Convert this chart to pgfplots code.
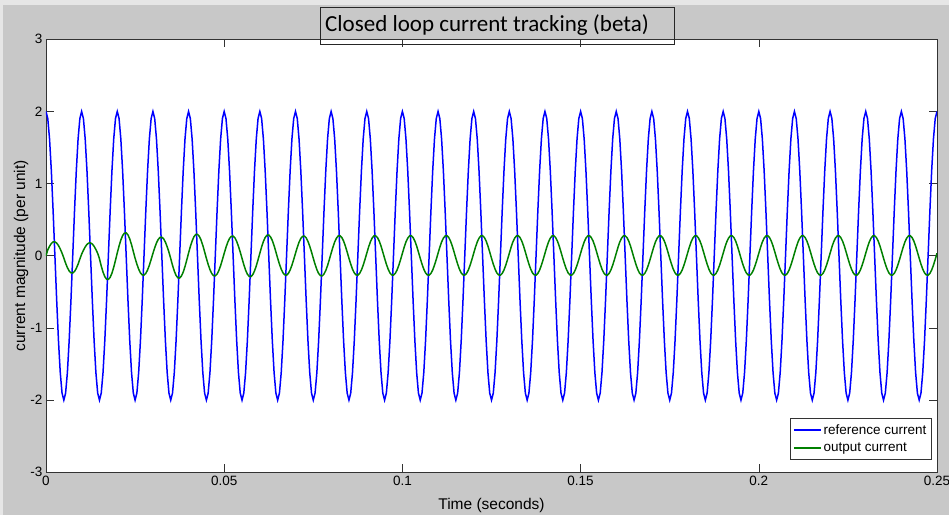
\documentclass[border=0pt]{standalone}
\usepackage{pgfplots}
\usepackage{pgfplotstable}
\pgfplotsset{compat=1.18}
\usepackage{fontspec}
\setmainfont{Liberation Sans}
\newfontfamily\titlefont{Carlito}
\definecolor{figbg}{HTML}{C8C8C8}
\definecolor{winedge}{HTML}{E6E6E6}
\definecolor{mlblue}{rgb}{0,0,1}
\definecolor{mlgreen}{rgb}{0,0.5,0}

% t  reference  output
\pgfplotstableread{
t r o
0.0000 2 0
0.0005 1.902 0.083
0.0010 1.618 0.133
0.0015 1.176 0.171
0.0020 0.618 0.192
0.0025 0 0.193
0.0030 -0.618 0.176
0.0035 -1.176 0.142
0.0040 -1.618 0.094
0.0045 -1.902 0.037
0.0050 -2 -0.030
0.0055 -1.902 -0.102
0.0060 -1.618 -0.164
0.0065 -1.176 -0.210
0.0070 -0.618 -0.236
0.0075 0 -0.238
0.0080 0.618 -0.217
0.0085 1.176 -0.175
0.0090 1.618 -0.116
0.0095 1.902 -0.045
0.0100 2 0.023
0.0105 1.902 0.077
0.0110 1.618 0.123
0.0115 1.176 0.158
0.0120 0.618 0.177
0.0125 0 0.179
0.0130 -0.618 0.163
0.0135 -1.176 0.131
0.0140 -1.618 0.087
0.0145 -1.902 0.034
0.0150 -2 -0.041
0.0155 -1.902 -0.141
0.0160 -1.618 -0.226
0.0165 -1.176 -0.289
0.0170 -0.618 -0.324
0.0175 0 -0.327
0.0180 0.618 -0.299
0.0185 1.176 -0.241
0.0190 1.618 -0.159
0.0195 1.902 -0.062
0.0200 2 0.040
0.0205 1.902 0.136
0.0210 1.618 0.219
0.0215 1.176 0.280
0.0220 0.618 0.314
0.0225 0 0.317
0.0230 -0.618 0.290
0.0235 -1.176 0.233
0.0240 -1.618 0.154
0.0245 -1.902 0.060
0.0250 -2 -0.034
0.0255 -1.902 -0.115
0.0260 -1.618 -0.185
0.0265 -1.176 -0.237
0.0270 -0.618 -0.265
0.0275 0 -0.268
0.0280 0.618 -0.244
0.0285 1.176 -0.197
0.0290 1.618 -0.130
0.0295 1.902 -0.051
0.0300 2 0.033
0.0305 1.902 0.111
0.0310 1.618 0.178
0.0315 1.176 0.228
0.0320 0.618 0.255
0.0325 0 0.258
0.0330 -0.618 0.235
0.0335 -1.176 0.190
0.0340 -1.618 0.125
0.0345 -1.902 0.049
0.0350 -2 -0.039
0.0355 -1.902 -0.132
0.0360 -1.618 -0.212
0.0365 -1.176 -0.272
0.0370 -0.618 -0.305
0.0375 0 -0.308
0.0380 0.618 -0.280
0.0385 1.176 -0.226
0.0390 1.618 -0.149
0.0395 1.902 -0.058
0.0400 2 0.038
0.0405 1.902 0.128
0.0410 1.618 0.205
0.0415 1.176 0.263
0.0420 0.618 0.295
0.0425 0 0.298
0.0430 -0.618 0.271
0.0435 -1.176 0.219
0.0440 -1.618 0.145
0.0445 -1.902 0.056
0.0450 -2 -0.035
0.0455 -1.902 -0.119
0.0460 -1.618 -0.192
0.0465 -1.176 -0.245
0.0470 -0.618 -0.275
0.0475 0 -0.278
0.0480 0.618 -0.253
0.0485 1.176 -0.204
0.0490 1.618 -0.135
0.0495 1.902 -0.052
0.0500 2 0.034
0.0505 1.902 0.117
0.0510 1.618 0.188
0.0515 1.176 0.241
0.0520 0.618 0.270
0.0525 0 0.273
0.0530 -0.618 0.249
0.0535 -1.176 0.200
0.0540 -1.618 0.132
0.0545 -1.902 0.052
0.0550 -2 -0.036
0.0555 -1.902 -0.123
0.0560 -1.618 -0.199
0.0565 -1.176 -0.254
0.0570 -0.618 -0.285
0.0575 0 -0.288
0.0580 0.618 -0.262
0.0585 1.176 -0.211
0.0590 1.618 -0.140
0.0595 1.902 -0.054
0.0600 2 0.036
0.0605 1.902 0.123
0.0610 1.618 0.199
0.0615 1.176 0.254
0.0620 0.618 0.285
0.0625 0 0.288
0.0630 -0.618 0.262
0.0635 -1.176 0.211
0.0640 -1.618 0.140
0.0645 -1.902 0.054
0.0650 -2 -0.034
0.0655 -1.902 -0.115
0.0660 -1.618 -0.185
0.0665 -1.176 -0.237
0.0670 -0.618 -0.265
0.0675 0 -0.268
0.0680 0.618 -0.244
0.0685 1.176 -0.197
0.0690 1.618 -0.130
0.0695 1.902 -0.051
0.0700 2 0.034
0.0705 1.902 0.117
0.0710 1.618 0.188
0.0715 1.176 0.241
0.0720 0.618 0.270
0.0725 0 0.273
0.0730 -0.618 0.249
0.0735 -1.176 0.200
0.0740 -1.618 0.132
0.0745 -1.902 0.052
0.0750 -2 -0.035
0.0755 -1.902 -0.119
0.0760 -1.618 -0.192
0.0765 -1.176 -0.245
0.0770 -0.618 -0.275
0.0775 0 -0.278
0.0780 0.618 -0.253
0.0785 1.176 -0.204
0.0790 1.618 -0.135
0.0795 1.902 -0.052
0.0800 2 0.035
0.0805 1.902 0.119
0.0810 1.618 0.192
0.0815 1.176 0.245
0.0820 0.618 0.275
0.0825 0 0.278
0.0830 -0.618 0.253
0.0835 -1.176 0.204
0.0840 -1.618 0.135
0.0845 -1.902 0.052
0.0850 -2 -0.034
0.0855 -1.902 -0.115
0.0860 -1.618 -0.185
0.0865 -1.176 -0.237
0.0870 -0.618 -0.265
0.0875 0 -0.268
0.0880 0.618 -0.244
0.0885 1.176 -0.197
0.0890 1.618 -0.130
0.0895 1.902 -0.051
0.0900 2 0.035
0.0905 1.902 0.119
0.0910 1.618 0.192
0.0915 1.176 0.245
0.0920 0.618 0.275
0.0925 0 0.278
0.0930 -0.618 0.253
0.0935 -1.176 0.204
0.0940 -1.618 0.135
0.0945 -1.902 0.052
0.0950 -2 -0.034
0.0955 -1.902 -0.115
0.0960 -1.618 -0.185
0.0965 -1.176 -0.237
0.0970 -0.618 -0.265
0.0975 0 -0.268
0.0980 0.618 -0.244
0.0985 1.176 -0.197
0.0990 1.618 -0.130
0.0995 1.902 -0.051
0.1000 2 0.035
0.1005 1.902 0.119
0.1010 1.618 0.192
0.1015 1.176 0.245
0.1020 0.618 0.275
0.1025 0 0.278
0.1030 -0.618 0.253
0.1035 -1.176 0.204
0.1040 -1.618 0.135
0.1045 -1.902 0.052
0.1050 -2 -0.034
0.1055 -1.902 -0.115
0.1060 -1.618 -0.185
0.1065 -1.176 -0.237
0.1070 -0.618 -0.265
0.1075 0 -0.268
0.1080 0.618 -0.244
0.1085 1.176 -0.197
0.1090 1.618 -0.130
0.1095 1.902 -0.051
0.1100 2 0.035
0.1105 1.902 0.119
0.1110 1.618 0.192
0.1115 1.176 0.245
0.1120 0.618 0.275
0.1125 0 0.278
0.1130 -0.618 0.253
0.1135 -1.176 0.204
0.1140 -1.618 0.135
0.1145 -1.902 0.052
0.1150 -2 -0.034
0.1155 -1.902 -0.115
0.1160 -1.618 -0.185
0.1165 -1.176 -0.237
0.1170 -0.618 -0.265
0.1175 0 -0.268
0.1180 0.618 -0.244
0.1185 1.176 -0.197
0.1190 1.618 -0.130
0.1195 1.902 -0.051
0.1200 2 0.035
0.1205 1.902 0.119
0.1210 1.618 0.192
0.1215 1.176 0.245
0.1220 0.618 0.275
0.1225 0 0.278
0.1230 -0.618 0.253
0.1235 -1.176 0.204
0.1240 -1.618 0.135
0.1245 -1.902 0.052
0.1250 -2 -0.034
0.1255 -1.902 -0.115
0.1260 -1.618 -0.185
0.1265 -1.176 -0.237
0.1270 -0.618 -0.265
0.1275 0 -0.268
0.1280 0.618 -0.244
0.1285 1.176 -0.197
0.1290 1.618 -0.130
0.1295 1.902 -0.051
0.1300 2 0.035
0.1305 1.902 0.119
0.1310 1.618 0.192
0.1315 1.176 0.245
0.1320 0.618 0.275
0.1325 0 0.278
0.1330 -0.618 0.253
0.1335 -1.176 0.204
0.1340 -1.618 0.135
0.1345 -1.902 0.052
0.1350 -2 -0.034
0.1355 -1.902 -0.115
0.1360 -1.618 -0.185
0.1365 -1.176 -0.237
0.1370 -0.618 -0.265
0.1375 0 -0.268
0.1380 0.618 -0.244
0.1385 1.176 -0.197
0.1390 1.618 -0.130
0.1395 1.902 -0.051
0.1400 2 0.035
0.1405 1.902 0.119
0.1410 1.618 0.192
0.1415 1.176 0.245
0.1420 0.618 0.275
0.1425 0 0.278
0.1430 -0.618 0.253
0.1435 -1.176 0.204
0.1440 -1.618 0.135
0.1445 -1.902 0.052
0.1450 -2 -0.034
0.1455 -1.902 -0.115
0.1460 -1.618 -0.185
0.1465 -1.176 -0.237
0.1470 -0.618 -0.265
0.1475 0 -0.268
0.1480 0.618 -0.244
0.1485 1.176 -0.197
0.1490 1.618 -0.130
0.1495 1.902 -0.051
0.1500 2 0.035
0.1505 1.902 0.119
0.1510 1.618 0.192
0.1515 1.176 0.245
0.1520 0.618 0.275
0.1525 0 0.278
0.1530 -0.618 0.253
0.1535 -1.176 0.204
0.1540 -1.618 0.135
0.1545 -1.902 0.052
0.1550 -2 -0.034
0.1555 -1.902 -0.115
0.1560 -1.618 -0.185
0.1565 -1.176 -0.237
0.1570 -0.618 -0.265
0.1575 0 -0.268
0.1580 0.618 -0.244
0.1585 1.176 -0.197
0.1590 1.618 -0.130
0.1595 1.902 -0.051
0.1600 2 0.035
0.1605 1.902 0.119
0.1610 1.618 0.192
0.1615 1.176 0.245
0.1620 0.618 0.275
0.1625 0 0.278
0.1630 -0.618 0.253
0.1635 -1.176 0.204
0.1640 -1.618 0.135
0.1645 -1.902 0.052
0.1650 -2 -0.034
0.1655 -1.902 -0.115
0.1660 -1.618 -0.185
0.1665 -1.176 -0.237
0.1670 -0.618 -0.265
0.1675 0 -0.268
0.1680 0.618 -0.244
0.1685 1.176 -0.197
0.1690 1.618 -0.130
0.1695 1.902 -0.051
0.1700 2 0.035
0.1705 1.902 0.119
0.1710 1.618 0.192
0.1715 1.176 0.245
0.1720 0.618 0.275
0.1725 0 0.278
0.1730 -0.618 0.253
0.1735 -1.176 0.204
0.1740 -1.618 0.135
0.1745 -1.902 0.052
0.1750 -2 -0.034
0.1755 -1.902 -0.115
0.1760 -1.618 -0.185
0.1765 -1.176 -0.237
0.1770 -0.618 -0.265
0.1775 0 -0.268
0.1780 0.618 -0.244
0.1785 1.176 -0.197
0.1790 1.618 -0.130
0.1795 1.902 -0.051
0.1800 2 0.035
0.1805 1.902 0.119
0.1810 1.618 0.192
0.1815 1.176 0.245
0.1820 0.618 0.275
0.1825 0 0.278
0.1830 -0.618 0.253
0.1835 -1.176 0.204
0.1840 -1.618 0.135
0.1845 -1.902 0.052
0.1850 -2 -0.034
0.1855 -1.902 -0.115
0.1860 -1.618 -0.185
0.1865 -1.176 -0.237
0.1870 -0.618 -0.265
0.1875 0 -0.268
0.1880 0.618 -0.244
0.1885 1.176 -0.197
0.1890 1.618 -0.130
0.1895 1.902 -0.051
0.1900 2 0.035
0.1905 1.902 0.119
0.1910 1.618 0.192
0.1915 1.176 0.245
0.1920 0.618 0.275
0.1925 0 0.278
0.1930 -0.618 0.253
0.1935 -1.176 0.204
0.1940 -1.618 0.135
0.1945 -1.902 0.052
0.1950 -2 -0.034
0.1955 -1.902 -0.115
0.1960 -1.618 -0.185
0.1965 -1.176 -0.237
0.1970 -0.618 -0.265
0.1975 0 -0.268
0.1980 0.618 -0.244
0.1985 1.176 -0.197
0.1990 1.618 -0.130
0.1995 1.902 -0.051
0.2000 2 0.035
0.2005 1.902 0.119
0.2010 1.618 0.192
0.2015 1.176 0.245
0.2020 0.618 0.275
0.2025 0 0.278
0.2030 -0.618 0.253
0.2035 -1.176 0.204
0.2040 -1.618 0.135
0.2045 -1.902 0.052
0.2050 -2 -0.034
0.2055 -1.902 -0.115
0.2060 -1.618 -0.185
0.2065 -1.176 -0.237
0.2070 -0.618 -0.265
0.2075 0 -0.268
0.2080 0.618 -0.244
0.2085 1.176 -0.197
0.2090 1.618 -0.130
0.2095 1.902 -0.051
0.2100 2 0.035
0.2105 1.902 0.119
0.2110 1.618 0.192
0.2115 1.176 0.245
0.2120 0.618 0.275
0.2125 0 0.278
0.2130 -0.618 0.253
0.2135 -1.176 0.204
0.2140 -1.618 0.135
0.2145 -1.902 0.052
0.2150 -2 -0.034
0.2155 -1.902 -0.115
0.2160 -1.618 -0.185
0.2165 -1.176 -0.237
0.2170 -0.618 -0.265
0.2175 0 -0.268
0.2180 0.618 -0.244
0.2185 1.176 -0.197
0.2190 1.618 -0.130
0.2195 1.902 -0.051
0.2200 2 0.035
0.2205 1.902 0.119
0.2210 1.618 0.192
0.2215 1.176 0.245
0.2220 0.618 0.275
0.2225 0 0.278
0.2230 -0.618 0.253
0.2235 -1.176 0.204
0.2240 -1.618 0.135
0.2245 -1.902 0.052
0.2250 -2 -0.034
0.2255 -1.902 -0.115
0.2260 -1.618 -0.185
0.2265 -1.176 -0.237
0.2270 -0.618 -0.265
0.2275 0 -0.268
0.2280 0.618 -0.244
0.2285 1.176 -0.197
0.2290 1.618 -0.130
0.2295 1.902 -0.051
0.2300 2 0.035
0.2305 1.902 0.119
0.2310 1.618 0.192
0.2315 1.176 0.245
0.2320 0.618 0.275
0.2325 0 0.278
0.2330 -0.618 0.253
0.2335 -1.176 0.204
0.2340 -1.618 0.135
0.2345 -1.902 0.052
0.2350 -2 -0.034
0.2355 -1.902 -0.115
0.2360 -1.618 -0.185
0.2365 -1.176 -0.237
0.2370 -0.618 -0.265
0.2375 0 -0.268
0.2380 0.618 -0.244
0.2385 1.176 -0.197
0.2390 1.618 -0.130
0.2395 1.902 -0.051
0.2400 2 0.035
0.2405 1.902 0.119
0.2410 1.618 0.192
0.2415 1.176 0.245
0.2420 0.618 0.275
0.2425 0 0.278
0.2430 -0.618 0.253
0.2435 -1.176 0.204
0.2440 -1.618 0.135
0.2445 -1.902 0.052
0.2450 -2 -0.034
0.2455 -1.902 -0.115
0.2460 -1.618 -0.185
0.2465 -1.176 -0.237
0.2470 -0.618 -0.265
0.2475 0 -0.268
0.2480 0.618 -0.244
0.2485 1.176 -0.197
0.2490 1.618 -0.130
0.2495 1.902 -0.051
0.2500 2 0.035
}\currdata

\begin{document}
\begin{tikzpicture}
\fill[figbg] (0bp,0bp) rectangle (949bp,515bp);
% light window edge at top and left
\fill[winedge] (0bp,510bp) rectangle (949bp,515bp);
\fill[winedge] (0bp,0bp) rectangle (3bp,515bp);
\useasboundingbox (0bp,0bp) rectangle (949bp,515bp);
\begin{axis}[
    at={(46bp,42.7bp)}, anchor=south west,
    scale only axis, width=891bp, height=433bp,
    xmin=0, xmax=0.25, ymin=-3, ymax=3,
    axis background/.style={fill=white},
    axis line style={draw=black!80, line width=0.7bp},
    xtick={0,0.05,0.1,0.15,0.2,0.25},
    xticklabels={0,0.05,0.1,0.15,0.2,0.25},
    ytick={-3,-2,-1,0,1,2,3},
    tick align=inside, tick pos=both,
    major tick length=8bp,
    tick style={draw=black!80, line width=0.6bp},
    /pgf/number format/assume math mode=true,
    tick label style={font=\fontsize{13.5bp}{16bp}\selectfont},
    xlabel={Time (seconds)},
    ylabel={current magnitude (per unit)},
    label style={font=\fontsize{15.5bp}{18bp}\selectfont},
    xlabel style={at={(axis description cs:0.5,-0.076)}, anchor=center},
    ylabel style={at={(axis description cs:-0.028,0.5)}, anchor=center, rotate=0},
    legend cell align=left,
    legend style={at={(axis description cs:0.994,0.030)}, anchor=south east,
        draw=black!80, line width=0.6bp, fill=white,
        font=\fontsize{13.5bp}{16bp}\selectfont,
        inner xsep=3bp, inner ysep=4bp, row sep=3bp},
    legend image code/.code={\draw[#1, line width=1.5bp] (0bp,0bp) -- (27bp,0bp);},
]
\addplot[mlblue, line width=1.5bp] table[x=t, y=r] {\currdata};
\addlegendentry{reference current}
\addplot[mlgreen, line width=1.5bp] table[x=t, y=o] {\currdata};
\addlegendentry{output current}
\end{axis}
\draw[black!85, line width=0.7bp] (320bp,471bp) rectangle (674bp,508bp);
\node[anchor=base west, inner sep=0pt, font=\titlefont\fontsize{23bp}{26bp}\selectfont]
    at (325bp,483bp) {Closed loop current tracking (beta)};
\end{tikzpicture}
\end{document}
